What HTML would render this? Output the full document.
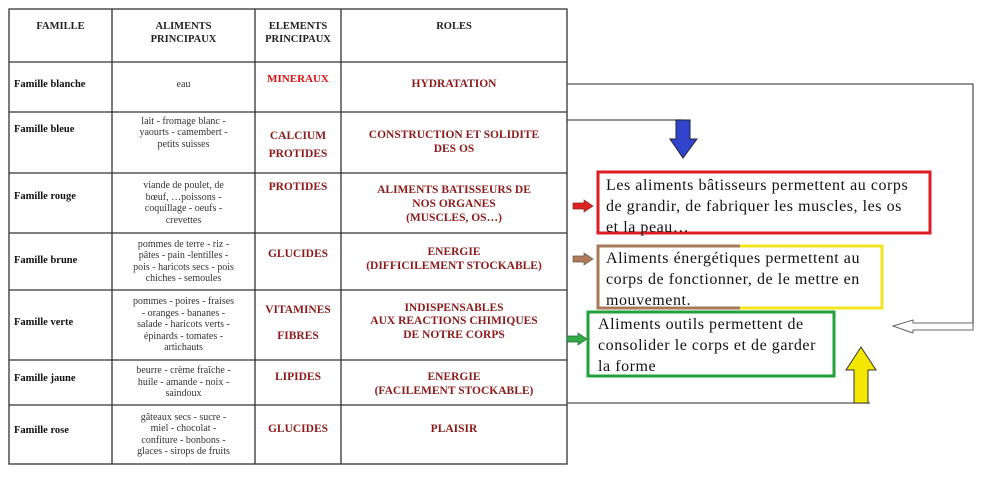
<!DOCTYPE html>
<html><head><meta charset="utf-8"><style>
body{margin:0;width:1000px;height:490px;background:#fff;position:relative;overflow:hidden;font-family:"Liberation Serif",serif;}
.c{position:absolute;display:flex;align-items:center;justify-content:center;text-align:center;line-height:1.2;}
.h{font-weight:bold;font-size:10.5px;color:#222;}
.f{font-weight:bold;font-size:10.5px;color:#111;justify-content:flex-start;padding-left:5px;}
.a{font-size:10px;color:#333;line-height:1.15;}
.e{font-weight:bold;font-size:11.5px;color:#8b1a1a;}
.r{font-weight:bold;font-size:11.5px;color:#8b1a1a;}
.box{position:absolute;font-size:16px;line-height:21px;color:#111;white-space:nowrap;letter-spacing:0.55px;}
</style></head><body>
<svg width="1000" height="490" style="position:absolute;left:0;top:0">
<g stroke="#333" stroke-width="1.3" fill="none">
<rect x="9" y="9" width="558" height="455"/>
<line x1="112" y1="9" x2="112" y2="464"/>
<line x1="255" y1="9" x2="255" y2="464"/>
<line x1="341" y1="9" x2="341" y2="464"/>
<line x1="9" y1="62" x2="567" y2="62"/>
<line x1="9" y1="112" x2="567" y2="112"/>
<line x1="9" y1="173" x2="567" y2="173"/>
<line x1="9" y1="233" x2="567" y2="233"/>
<line x1="9" y1="290" x2="567" y2="290"/>
<line x1="9" y1="360" x2="567" y2="360"/>
<line x1="9" y1="405" x2="567" y2="405"/>
</g>
<g stroke="#555" stroke-width="1.3" fill="none">
<polyline points="567,84 973,84 973,327"/>
<polyline points="567,120 683,120"/>
<polyline points="567,403 870,403"/>
</g>
<polygon points="893,326 913,320 913,323 973,323 973,330 913,330 913,333" fill="#fff" stroke="#666" stroke-width="1"/>
<polygon points="676,120 690,120 690,139 697,139 683,158 670,139 676,139" fill="#3344cc" stroke="#223" stroke-width="1"/>
<polygon points="854,403 868,403 868,370 876,370 861,347 846,370 854,370" fill="#f5e800" stroke="#333" stroke-width="1"/>
<polygon points="573,203 584,203 584,200 593,206 584,212 584,209 573,209" fill="#dd2222" stroke="#822" stroke-width="0.7"/>
<polygon points="573,256 584,256 584,253 593,259 584,265 584,262 573,262" fill="#b07a5a" stroke="#654" stroke-width="0.7"/>
<polygon points="567,336 578,336 578,333 587,339 578,345 578,342 567,342" fill="#33aa44" stroke="#264" stroke-width="0.7"/>
<rect x="598" y="172" width="332" height="61" fill="none" stroke="#dd1c24" stroke-width="3"/>
<polyline points="740,246 598,246 598,308 740,308" fill="none" stroke="#a87a5a" stroke-width="3"/>
<polyline points="740,246 882,246 882,308 740,308" fill="none" stroke="#f3e620" stroke-width="3"/>
<rect x="588" y="312" width="246" height="64" fill="none" stroke="#22a03a" stroke-width="3"/>
</svg>

<div class="c h" style="left:9px;top:20px;width:103px;height:14px">FAMILLE</div>
<div class="c h" style="left:112px;top:20px;width:143px;height:28px">ALIMENTS<br>PRINCIPAUX</div>
<div class="c h" style="left:255px;top:20px;width:86px;height:28px">ELEMENTS<br>PRINCIPAUX</div>
<div class="c h" style="left:341px;top:20px;width:226px;height:14px">ROLES</div>

<div class="c f" style="left:9px;top:62px;width:103px;height:46px">Famille blanche</div>
<div class="c a" style="left:112px;top:62px;width:143px;height:46px">eau</div>
<div class="c" style="left:255px;top:72px;width:86px;height:16px;font-weight:bold;font-size:11px;color:#e01010">MINERAUX</div>
<div class="c r" style="left:341px;top:62px;width:226px;height:46px">HYDRATATION</div>

<div class="c f" style="left:9px;top:112px;width:103px;height:36px">Famille bleue</div>
<div class="c a" style="left:112px;top:112px;width:143px;height:42px">lait - fromage blanc -<br>yaourts - camembert -<br>petits suisses</div>
<div class="c e" style="left:255px;top:120px;width:86px;height:50px;line-height:1.6">CALCIUM<br>PROTIDES</div>
<div class="c r" style="left:341px;top:118px;width:226px;height:50px">CONSTRUCTION ET SOLIDITE<br>DES OS</div>

<div class="c f" style="left:9px;top:173px;width:103px;height:48px">Famille rouge</div>
<div class="c a" style="left:112px;top:173px;width:143px;height:60px">viande de poulet, de<br>bœuf, …poissons -<br>coquillage - oeufs -<br>crevettes</div>
<div class="c e" style="left:255px;top:178px;width:86px;height:20px">PROTIDES</div>
<div class="c r" style="left:341px;top:184px;width:226px;height:46px;align-items:flex-start">ALIMENTS BATISSEURS DE<br>NOS ORGANES<br>(MUSCLES, OS…)</div>

<div class="c f" style="left:9px;top:233px;width:103px;height:57px">Famille brune</div>
<div class="c a" style="left:112px;top:233px;width:143px;height:57px">pommes de terre - riz -<br>pâtes - pain -lentilles -<br>pois - haricots secs - pois<br>chiches - semoules</div>
<div class="c e" style="left:255px;top:246px;width:86px;height:18px">GLUCIDES</div>
<div class="c r" style="left:341px;top:244px;width:226px;height:32px">ENERGIE<br>(DIFFICILEMENT STOCKABLE)</div>

<div class="c f" style="left:9px;top:290px;width:103px;height:66px">Famille verte</div>
<div class="c a" style="left:112px;top:290px;width:143px;height:70px">pommes - poires - fraises<br>- oranges - bananes -<br>salade - haricots verts -<br>épinards - tomates -<br>artichauts</div>
<div class="c e" style="left:255px;top:298px;width:86px;height:50px;line-height:2.3">VITAMINES<br>FIBRES</div>
<div class="c r" style="left:341px;top:298px;width:226px;height:48px;line-height:1.15">INDISPENSABLES<br>AUX REACTIONS CHIMIQUES<br>DE NOTRE CORPS</div>

<div class="c f" style="left:9px;top:360px;width:103px;height:38px">Famille jaune</div>
<div class="c a" style="left:112px;top:360px;width:143px;height:45px">beurre - crème fraîche -<br>huile - amande - noix -<br>saindoux</div>
<div class="c e" style="left:255px;top:368px;width:86px;height:20px">LIPIDES</div>
<div class="c r" style="left:341px;top:368px;width:226px;height:34px">ENERGIE<br>(FACILEMENT STOCKABLE)</div>

<div class="c f" style="left:9px;top:405px;width:103px;height:52px">Famille rose</div>
<div class="c a" style="left:112px;top:405px;width:143px;height:59px">gâteaux secs - sucre -<br>miel - chocolat -<br>confiture - bonbons -<br>glaces - sirops de fruits</div>
<div class="c e" style="left:255px;top:420px;width:86px;height:20px">GLUCIDES</div>
<div class="c r" style="left:341px;top:420px;width:226px;height:20px">PLAISIR</div>

<div class="box" style="left:606px;top:175px;">Les aliments bâtisseurs permettent au corps<br>de grandir, de fabriquer les muscles, les os<br>et la peau…</div>
<div class="box" style="left:606px;top:248px;">Aliments énergétiques permettent au<br>corps de fonctionner, de le mettre en<br>mouvement.</div>
<div class="box" style="left:598px;top:314px;">Aliments outils permettent de<br>consolider le corps et de garder<br>la forme</div>
</body></html>
